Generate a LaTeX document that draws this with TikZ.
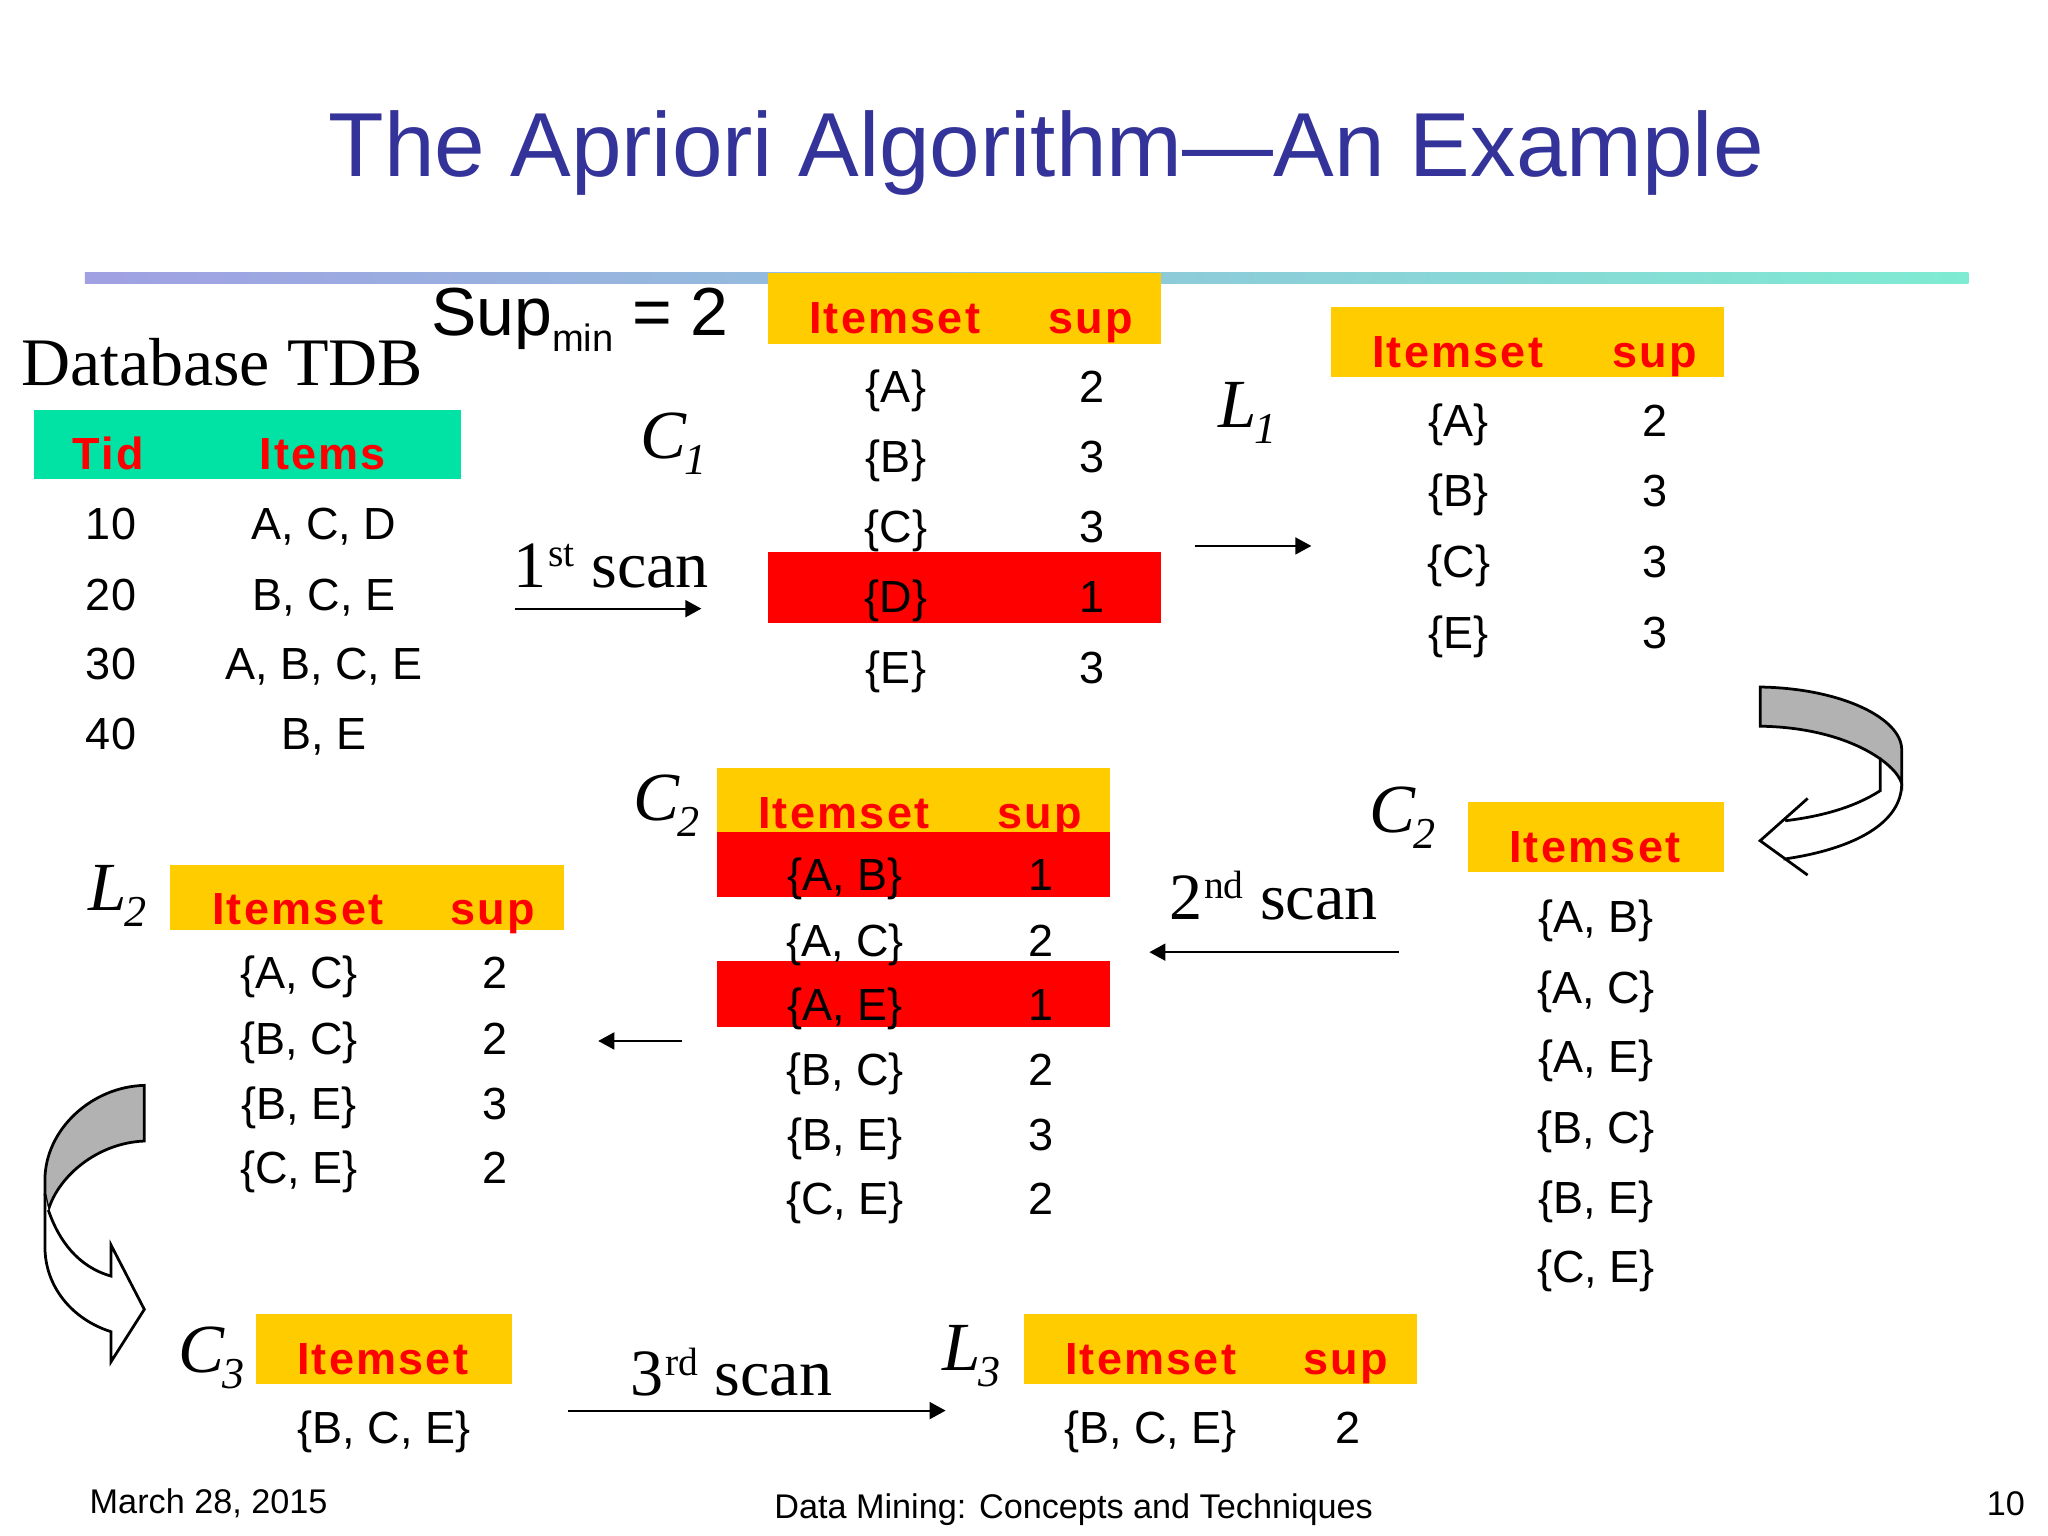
\documentclass[tikz,border=0pt]{standalone}
\usepackage{fontspec}
\usetikzlibrary{arrows.meta}
\setmainfont{Liberation Sans}
\newfontfamily\timesfont{Liberation Serif}
\newfontfamily\headfont[LetterSpace=5]{Liberation Sans}
\definecolor{titleblue}{HTML}{333399}
\definecolor{headyellow}{HTML}{FFCC00}
\definecolor{headgreen}{HTML}{00E3A5}
\definecolor{swooshgray}{HTML}{B2B2B2}
\definecolor{ruleleft}{HTML}{A0A0E3}
\definecolor{ruleright}{HTML}{7FEBD2}
\newcommand{\setsub}[2]{#1\kern-0.4pt\raisebox{-3.5pt}{\fontsize{9.6}{10}\selectfont #2}}
\newcommand{\scanup}[2]{#1\kern0.4pt\raisebox{4.5pt}{\fontsize{8.6}{10}\selectfont #2} scan}
\tikzset{
  cell/.style={font=\fontsize{9.8}{11}\selectfont, inner sep=0pt, text height=6.9pt, text depth=0pt},
  head/.style={font=\fontsize{9.8}{11}\selectfont\headfont\bfseries, text=red, inner sep=0pt, text height=6.9pt, text depth=0pt},
  serif/.style={font=\fontsize{14.4}{16}\selectfont\timesfont, inner sep=0pt, text height=8.9pt, text depth=0pt},
  setname/.style={font=\fontsize{15}{17}\selectfont\timesfont\itshape, inner sep=0pt, text height=8.6pt, text depth=0pt},
  foot/.style={font=\fontsize{7.45}{9}\selectfont, inner sep=0pt},
  swoosh/.style={line width=0.6pt, line join=miter},
  scanarrow/.style={-{Triangle[length=3.5pt,width=3.7pt]}, line width=0.44pt}
}
\begin{document}
\begin{tikzpicture}[x=0.01cm, y=-0.01cm, >=stealth, line join=round]
\useasboundingbox (0,0) rectangle (1568,1176);
\node[font=\fontsize{19.8}{22}\selectfont, text=titleblue, inner sep=0pt, text height=14.2pt, text depth=0pt] (title) at (801,110) {The Apriori Algorithm---An Example};
\fill[left color=ruleleft, right color=ruleright] (65,209) rectangle (1507,217);

% database
\fill[headgreen] (26,314) rectangle (353,367);
\node[font=\fontsize{14.8}{17}\selectfont\timesfont, inner sep=0pt, text height=9.2pt, text depth=0pt] (tdb) at (170,279) {Database TDB};
\node[head] (tid) at (83,347) {Tid};
\node[head] (items) at (247,347) {Items};
\foreach \y/\t/\s in {401/10/{A, C, D},455/20/{B, C, E},508/30/{A, B, C, E},562/40/{B, E}}{
\node[cell] (tid\t) at (85,\y) {\t};
\node[cell] (items\t) at (248,\y) {\s};
}
\node[font=\fontsize{14.8}{16}\selectfont, inner sep=0pt, text height=9.5pt, text depth=0pt] (supmin) at (444,240) {Sup\raisebox{-3.6pt}{\fontsize{8.3}{9}\selectfont min} = 2};

% C1
\fill[headyellow] (588,209) rectangle (889,263);
\fill[red] (588,423) rectangle (889,477);
\node[head] (cOneI) at (685,243) {Itemset};
\node[head] (cOneS) at (835,243) {sup};
\foreach \y/\t/\s in {296/A/2,350/B/3,403/C/3,457/D/1,511/E/3}{
\node[cell] (cOne\t) at (686,\y) {\{\t\}};
\node[cell] (cOnes\t) at (836,\y) {\s};
}
\node[setname] (labCOne) at (516,336) {\setsub{C}{1}};

% L1
\fill[headyellow] (1019,235) rectangle (1320,289);
\node[head] (lOneI) at (1116,269) {Itemset};
\node[head] (lOneS) at (1267,269) {sup};
\foreach \y/\t/\s in {322/A/2,376/B/3,430/C/3,484/E/3}{
\node[cell] (lOne\t) at (1117,\y) {\{\t\}};
\node[cell] (lOnes\t) at (1267,\y) {\s};
}
\node[setname] (labLOne) at (955,312) {\setsub{L}{1}};

% C2 candidates
\fill[headyellow] (1124,614) rectangle (1320,668);
\node[head] (cTwoI) at (1221,648) {Itemset};
\foreach \y/\t in {702/{A, B},756/{A, C},809/{A, E},863/{B, C},917/{B, E},970/{C, E}}{
\node[cell] (cTwo\y) at (1222,\y) {\{\t\}};
}
\node[setname] (labCTwoR) at (1074,622) {\setsub{C}{2}};

% C2 counted
\fill[headyellow] (549,588) rectangle (850,637);
\fill[red] (549,637) rectangle (850,687);
\fill[red] (549,736) rectangle (850,786);
\node[head] (cntI) at (646,622) {Itemset};
\node[head] (cntS) at (796,622) {sup};
\foreach \y/\t/\s in {670/{A, B}/1,720/{A, C}/2,769/{A, E}/1,819/{B, C}/2,869/{B, E}/3,918/{C, E}/2}{
\node[cell] (cnt\y) at (647,\y) {\{\t\}};
\node[cell] (cnts\y) at (797,\y) {\s};
}
\node[setname] (labCTwoM) at (510,613) {\setsub{C}{2}};

% L2
\fill[headyellow] (130,662) rectangle (432,712);
\node[head] (lTwoI) at (228,696) {Itemset};
\node[head] (lTwoS) at (377,696) {sup};
\foreach \y/\t/\s in {745/{A, C}/2,795/{B, C}/2,845/{B, E}/3,894/{C, E}/2}{
\node[cell] (lTwo\y) at (229,\y) {\{\t\}};
\node[cell] (lTwos\y) at (379,\y) {\s};
}
\node[setname] (labLTwo) at (90,682) {\setsub{L}{2}};

% C3, L3
\fill[headyellow] (196,1006) rectangle (392,1060);
\node[head] (cThreeI) at (293,1040) {Itemset};
\node[cell] (cThree) at (294,1093) {\{B, C, E\}};
\node[setname] (labCThree) at (162,1036) {\setsub{C}{3}};
\fill[headyellow] (784,1006) rectangle (1085,1060);
\node[head] (lThreeI) at (881,1040) {Itemset};
\node[head] (lThreeS) at (1030,1040) {sup};
\node[cell] (lThree) at (881,1093) {\{B, C, E\}};
\node[cell] (lThrees) at (1032,1093) {2};
\node[setname] (labLThree) at (744,1034) {\setsub{L}{3}};

% scans
\node[serif] (scanOne) at (468,434) {\scanup{1}{st}};
\node[serif] (scanTwo) at (975,688) {\scanup{2}{nd}};
\node[serif] (scanThree) at (560,1053) {\scanup{3}{rd}};
\coordinate (aOne) at (394,466);
\coordinate (bOne) at (537,466);
\coordinate (aTwo) at (915,418);
\coordinate (bTwo) at (1004,418);
\coordinate (aThree) at (1071,729);
\coordinate (bThree) at (880,729);
\coordinate (aFour) at (522,797);
\coordinate (bFour) at (458,797);
\coordinate (aFive) at (435,1080);
\coordinate (bFive) at (724,1080);
\foreach \i in {One,Two,Three,Four,Five}
\draw[scanarrow] (a\i)--(b\i);

% curved arrow right
\draw[swoosh, fill=swooshgray] (1347.6,526) .. controls (1410,527) and (1456,550) .. (1456,574) -- (1456,600)
 .. controls (1452,585) and (1415,557) .. (1347.6,556) -- cycle;
\draw[swoosh] (1439.5,580) -- (1439.5,605.4) .. controls (1420,618) and (1395,625) .. (1366.8,628.4)
 (1384,611.3) -- (1347.6,643.7) -- (1384,670) (1365.5,657.8) .. controls (1420,650) and (1456,630) .. (1456,600);
% curved arrow left
\draw[swoosh, fill=swooshgray] (110.5,831) .. controls (70,832) and (34.4,865) .. (34.4,903.5) -- (34.4,914) -- (37,926.4)
 .. controls (45,900) and (75,875) .. (110.5,873.6) -- cycle;
\draw[swoosh, fill=white] (34.4,914) -- (34.4,954.5) .. controls (34.4,985) and (55,1010) .. (85,1019.6) -- (85,1042.6) -- (110.5,1002.5)
 -- (85,953.2) -- (85,977) .. controls (60,970) and (45,950) .. (37,926.4);

% footer
\node[foot, anchor=west] (date) at (68,1151) {March 28, 2015};
\node[foot] (book) at (822,1156) {Data Mining: Concepts and Techniques};
\node[foot, anchor=east] (pageno) at (1551,1151) {10};
\end{tikzpicture}
\end{document}
